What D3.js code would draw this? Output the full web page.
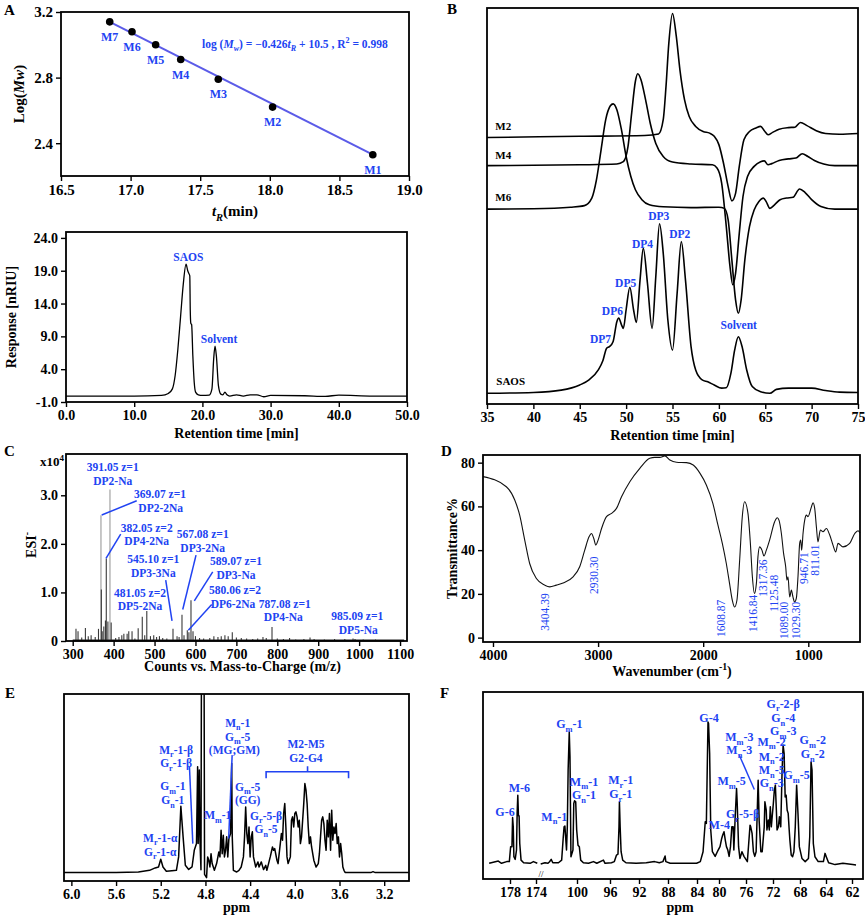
<!DOCTYPE html>
<html lang="en">
<head>
<meta charset="UTF-8">
<title>SAOS characterisation</title>
<script src="https://d3js.org/d3.v7.min.js"></script>
<style>
  body { margin: 0; background: #fff; }
  svg text { font-family: "Liberation Serif", "Times New Roman", serif; font-weight: bold; white-space: pre; }
</style>
</head>
<body>
<svg id="fig" width="865" height="919"></svg>
<script>
// ---------- A (top): GPC calibration ----------
const calNames = ["M7", "M6", "M5", "M4", "M3", "M2", "M1"];
const calTime = [16.85, 17.01, 17.18, 17.36, 17.63, 18.02, 18.74];
const calLogMw = [3.14, 3.08, 3.00, 2.91, 2.79, 2.62, 2.33];
const calFit = [[16.85, 3.14], [18.74, 2.33]];
const calEquation = "log (*M*_{*w*}) = −0.426*t*_{*R*} + 10.5 , R^{2} = 0.998";

// ---------- A (bottom): HPLC trace ----------
const hplc = [[0,-0.1],[10,-0.1],[14,0],[15,0.3],[15.6,1],[16.0,3],[16.4,7],[16.8,12],[17.2,17],[17.6,20.0],
  [17.85,19],[18.0,18.6],[18.15,18.2],[18.22,13],[18.3,11],[18.42,10.8],[18.6,6],[18.8,2],[19.0,0.5],[19.4,0.1],
  [20,0],[21,0.05],[21.4,1],[21.65,5.5],[21.85,7.5],[22.05,6],[22.35,1.5],[22.7,0.2],[23.0,0.1],[23.3,0.5],[23.6,0.1],
  [24,-0.1],[25,0.1],[26,-0.1],[27,0.1],[28,0.1],[29,-0.2],[30,0],[35,-0.05],[38,-0.15],[40,0.05],[45,-0.1],[50,-0.1]];
const hplcLabels = [["SAOS", 17.94, 20.45], ["Solvent", 22.44, 8.05]];

// ---------- B: SEC traces ----------
const secSAOS = [[35,2.7],[40,2.9],[43,3.5],[45,4.8],[46,6.1],[47,8.6],[47.5,11.0],[47.9,14.1],[48.2,14.5],[48.6,15.8],
  [49.0,20.8],[49.2,21.7],[49.5,20.0],[49.7,19.1],[50.0,23.8],[50.4,29.5],[50.8,23.8],[51.1,20.6],[51.5,31.3],[51.85,39.3],
  [52.3,30.5],[52.8,19.1],[53.2,32.2],[53.6,45.5],[54.0,38.1],[54.5,21.2],[55.0,13.6],[55.5,28.0],[55.95,41.0],[56.4,31.3],
  [57.0,14.5],[57.5,8.6],[58.2,6.1],[58.8,5.6],[59.5,4.8],[60.3,4.0],[60.8,4.1],[61.3,7.8],[61.7,13.6],[62.1,17.0],
  [62.5,14.5],[63.0,8.6],[63.6,4.4],[64.5,3.1],[65.5,2.7],[66.2,3.7],[67.5,4.0],[70.0,4.0],[71.5,3.4],[73.0,3.0],[75.0,2.9]];
const secM6 = [[35,49.2],[40,49.3],[44,49.7],[45.5,50.1],[46.3,52.0],[46.8,56.6],[47.3,64.2],[47.8,71.8],[48.3,75.3],
  [48.6,75.8],[49.0,74.3],[49.5,69.2],[50.0,62.5],[50.5,57.5],[51.0,54.1],[51.7,51.6],[52.5,50.3],[54.0,49.8],[57.0,49.6],
  [60.0,49.7],[60.6,49.4],[61.0,46.5],[61.4,36.4],[61.8,26.3],[62.1,22.9],[62.4,26.3],[62.8,36.4],[63.3,44.8],[63.8,49.0],
  [64.3,51.1],[64.8,52.0],[65.1,51.1],[65.5,49.4],[66.0,50.3],[66.6,51.6],[67.3,52.0],[68.0,52.2],[68.7,54.3],[69.3,53.4],
  [70.0,51.6],[71.0,49.9],[72.5,49.2],[75.0,49.2]];
const secM4 = [[35,60.2],[45,60.4],[49.0,60.6],[49.7,61.2],[50.2,65.0],[50.6,73.5],[51.0,81.5],[51.25,83.4],[51.6,81.9],
  [52.1,76.8],[52.6,70.9],[53.2,65.8],[54.0,62.5],[55.0,61.1],[57.0,60.6],[59.3,60.4],[59.8,59.6],[60.3,55.8],[60.8,44.8],
  [61.2,34.7],[61.5,30.1],[61.8,33.0],[62.2,43.1],[62.6,52.4],[63.1,57.5],[63.8,60.0],[64.5,61.2],[64.9,61.4],[65.3,60.4],
  [65.7,60.7],[66.5,61.5],[67.5,61.9],[68.3,62.1],[69.0,63.2],[69.6,62.5],[70.3,61.5],[71.3,60.6],[72.5,60.2],[75.0,60.2]];
const secM2 = [[35,67.3],[45,67.6],[52,67.8],[53.5,68.2],[54.0,71.8],[54.3,80.2],[54.6,91.0],[55.0,98.6],[55.4,93.0],
  [55.8,84.4],[56.3,76.8],[56.8,72.6],[57.5,70.1],[58.3,68.8],[59.0,68.4],[59.5,67.6],[60.0,65.5],[60.5,60.8],[61.0,54.9],
  [61.4,51.3],[61.8,53.2],[62.2,60.0],[62.7,66.7],[63.3,68.8],[64.0,69.7],[64.5,70.1],[64.9,69.0],[65.3,68.0],[65.8,68.6],
  [66.5,69.4],[67.5,69.8],[68.2,69.9],[68.8,71.1],[69.5,70.3],[70.5,69.0],[71.5,68.3],[73,68.1],[75.0,68.3]];
const secTraceNames = [["M2", 35.9, 69.2], ["M4", 35.9, 61.9], ["M6", 35.9, 51.3], ["SAOS", 36.0, 4.8]];
const secPeakLabels = [["DP7",47.23,15.4],["DP6",48.52,22.5],["DP5",49.95,29.5],["DP4",51.76,39.4],
  ["DP3",53.51,46.5],["DP2",55.78,41.9],["Solvent",62.14,18.9]];

// ---------- C: ESI-MS ----------
const msPeaks = [[308,0.25],[313,0.2],[322,0.07],[331,0.27],[338,0.1],[345,0.12],[355,0.08],[363,0.25],[369.07,2.59],
  [370,1.06],[372,0.2],[376,0.3],[380,0.42],[382.05,1.70],[386,0.4],[391.05,3.12],[394,0.38],[405,0.06],[413,0.08],
  [420,0.12],[425,0.15],[433,0.15],[437,0.2],[445,0.2],[452,0.05],[460,0.26],[470,0.5],[476,0.12],[481.05,0.62],
  [490,0.1],[498,0.12],[505,0.08],[512,0.1],[520,0.06],[530,0.05],[545.10,0.25],[555,0.1],[560,0.08],[567.08,0.54],
  [572,0.12],[580.06,0.22],[584,0.18],[589.07,0.84],[594,0.2],[600,0.1],[610,0.06],[620,0.05],[635,0.06],[645,0.1],
  [655,0.08],[663,0.1],[672,0.12],[680,0.1],[690,0.18],[700,0.07],[712,0.06],[725,0.05],[740,0.04],[752,0.05],
  [765,0.08],[773,0.06],[787.08,0.29],[800,0.05],[815,0.04],[830,0.06],[845,0.03],[865,0.04],[880,0.07],[890,0.04],
  [915,0.03],[940,0.04],[965,0.04],[985.09,0.05],[990,0.04],[1010,0.03],[1040,0.03],[1070,0.02],[1100,0.02]];
const msLabels = [["391.05 z=1",397.8,3.507],["DP2-Na",397.8,3.212],["369.07 z=1",513.4,2.944],["DP2-2Na",515.1,2.655],
  ["382.05 z=2",480.9,2.249],["DP4-2Na",480.9,1.98],["567.08 z=1",617.7,2.113],["DP3-2Na",617.7,1.824],
  ["545.10 z=1",497.0,1.603],["DP3-3Na",497.0,1.308],["589.07 z=1",699.1,1.562],["DP3-Na",699.1,1.273],
  ["481.05 z=2",464.5,0.916],["DP5-2Na",464.5,0.640],["580.06 z=2",696.7,0.963],["DP6-2Na",691.8,0.675],
  ["787.08 z=1",818.4,0.675],["DP4-Na",814.8,0.413],["985.09 z=1",995.6,0.427],["DP5-Na",998,0.138]];
const msLeaders = [[370.9,2.593,456.4,2.888],[381.4,1.70,417.3,2.20],[568.9,0.648,601.4,1.768],
  [542.7,0.413,527.3,1.252],[597.2,0.825,642.2,1.424],[582.6,0.221,639.7,0.751]];

// ---------- D: FT-IR ----------
const ir = [[4095,73.6],[3873,69.0],[3793,62.9],[3746,56.0],[3698,44.6],[3651,33.9],[3587,27.0],[3508,24.0],[3460,23.2],
  [3397,24.0],[3333,25.0],[3238,27.8],[3175,32.4],[3127,40.0],[3086,46.1],[3063,47.6],[3041,45.3],[3022,42.3],[3000,44.6],
  [2967,49.9],[2920,55.3],[2872,56.8],[2825,59.1],[2777,64.4],[2698,71.3],[2603,77.4],[2508,82.0],[2460,82.4],[2413,82.4],
  [2365,83.1],[2317,81.2],[2254,80.2],[2159,80.0],[2095,78.9],[2030,75.1],[1970,69.8],[1908,61.4],[1860,51.5],[1818,43.1],
  [1780,33.9],[1749,24.7],[1723,17.1],[1701,14.0],[1679,17.1],[1653,35.4],[1628,55.3],[1606,62.1],[1574,56.8],[1551,43.1],
  [1532,27.8],[1513,20.2],[1494,24.7],[1479,36.9],[1463,41.5],[1441,40.0],[1422,37.3],[1399,40.0],[1368,44.6],[1320,53.0],
  [1295,54.8],[1279,53.7],[1256,47.6],[1235,38.5],[1215,32.4],[1203,26.3],[1193,27.8],[1177,18.6],[1161,21.7],[1146,18.6],
  [1130,16.3],[1114,17.9],[1098,27.8],[1082,43.1],[1072,44.6],[1063,40.0],[1050,47.6],[1034,53.7],[1018,56.0],[1003,55.3],
  [970,59.8],[955,61.7],[939,59.1],[923,50.7],[908,43.8],[885,49.2],[860,48.4],[828,49.9],[796,46.9],[765,42.3],[739,39.2],
  [717,43.1],[670,41.5],[606,43.1],[558,47.6],[527,48.9],[508,47.9]];
const irLabels = [["3404.39",3467,11.7],["2930.30",3000,28.5],["1608.87",1793,8.8],["1416.84",1491,11.1],
  ["1317.36",1396,27.2],["1125.48",1286,20.3],["1089.00",1190,7.9],["1029.30",1079,7.9],["946.71",1000,31.8],["811.01",895,35.4]];

// ---------- E: 1H NMR ----------
const hnmr = [[6.07,4.5],[5.6,4.5],[5.4,4.8],[5.3,5.7],[5.25,7.0],[5.22,7.5],[5.2,11.6],[5.18,7.5],[5.15,5.2],[5.1,5.5],
  [5.06,5.7],[5.04,12.9],[5.02,40.0],[5.0,23.6],[4.98,8.4],[4.95,6.2],[4.92,7.5],[4.9,16.4],[4.88,20],[4.87,61.1],
  [4.865,20],[4.855,59.3],[4.85,23.6],[4.84,6],[4.836,110],[4.812,110],[4.808,3.6],[4.79,1.8],[4.78,12.9],[4.77,11.1],
  [4.76,7.5],[4.75,14.6],[4.74,9.3],[4.72,5.7],[4.7,9.3],[4.68,15.5],[4.67,12.9],[4.66,27.1],[4.65,14.6],[4.64,24.5],
  [4.63,12.9],[4.62,16.4],[4.61,23.6],[4.6,12.9],[4.59,22.7],[4.575,25.4],[4.565,62.9],[4.56,23.6],[4.55,5.7],[4.52,4.8],
  [4.5,5.7],[4.48,7.5],[4.46,12.9],[4.45,23.6],[4.44,39.6],[4.43,25.4],[4.42,20],[4.41,28.9],[4.4,12.9],[4.39,23.6],
  [4.38,26.3],[4.37,12.9],[4.35,7.5],[4.33,10.2],[4.32,7.5],[4.3,10.2],[4.28,6.1],[4.26,8.4],[4.25,5.7],[4.22,12.9],
  [4.2,18.2],[4.19,16.4],[4.18,17.3],[4.16,11.1],[4.15,9.3],[4.13,20],[4.12,25.4],[4.11,21.8],[4.1,36.1],[4.09,41.4],
  [4.08,28.9],[4.07,12.9],[4.06,9.3],[4.04,12.9],[4.03,32.5],[4.02,34.3],[4.01,28.9],[4.0,36.1],[3.99,37.0],[3.98,34.3],
  [3.97,28.9],[3.96,32.5],[3.95,20],[3.94,23.6],[3.93,32.5],[3.92,41.4],[3.91,52.1],[3.9,48.6],[3.89,41.4],[3.88,28.9],
  [3.87,20],[3.86,23.6],[3.85,18.2],[3.83,11.1],[3.81,7.5],[3.79,9.3],[3.78,14.6],[3.77,23.6],[3.76,32.5],[3.75,34.3],
  [3.74,30.7],[3.73,21.8],[3.72,16.4],[3.71,32.5],[3.70,23.6],[3.69,36.1],[3.68,16.4],[3.67,37.9],[3.66,21.8],[3.65,28.9],
  [3.64,25.4],[3.63,30.7],[3.62,20],[3.61,23.6],[3.6,12.9],[3.59,20],[3.58,14.6],[3.57,7.5],[3.56,5.7],[3.55,4.6],
  [3.5,4.5],[3.32,4.5],[3.3,5.0],[3.28,4.5],[2.98,4.5]];
const hnmrLabels = [["M_{r}-1-α",5.205,21.1],["G_{r}-1-α",5.205,13.4],["G_{m}-1",5.092,48.6],["G_{n}-1",5.092,41.1],
  ["M_{r}-1-β",5.062,67.9],["G_{r}-1-β",5.062,60.7],["M_{m}-1",4.69,33.0],["M_{n}-1",4.511,82.5],["G_{m}-5",4.511,75.0],
  ["(MG;GM)",4.541,67.9],["G_{m}-5",4.422,48.2],["(GG)",4.422,41.1],["G_{r}-5-β",4.257,32.7],["G_{n}-5",4.257,25.5],
  ["M2-M5",3.9,71.1],["G2-G4",3.9,63.9]];
const hnmrLeaders = [[4.943,61.1,4.913,20.0],[4.561,67.3,4.592,22.7]];
const hnmrBracket = { from: 4.257, to: 3.519, mid: 3.886, level: 58.4, foot: 55.0, top: 61.4 };

// ---------- F: 13C NMR (broken axis) ----------
const cnmrTicks = [178, 174, 100, 96, 92, 88, 84, 80, 76, 72, 68, 64, 62];
const cnmrLeft = [[181.2,8.4],[179.8,9.6],[179.3,8.4],[178.5,9.3],[178.1,9.3],[177.9,17.3],[177.7,17.3],[177.6,32.9],
  [177.5,27.9],[177.4,11.9],[177.2,10.5],[177.0,15.5],[176.9,35.1],[176.8,44.8],[176.7,33.8],[176.6,33.8],[176.5,19.0],
  [176.3,10.1],[175.9,8.7],[174.9,8.4],[174.4,9.3],[173.8,8.4]];
const cnmrRight = [[104.5,8.0],[103.97,8.7],[103.6,8.4],[103.4,9.25],[103.2,10.5],[103.0,8.7],[102.3,8.7],[101.9,10.1],
  [101.7,22.6],[101.6,27.9],[101.5,28.3],[101.3,15.5],[101.2,27.9],[101.1,58.2],[100.96,78.5],[100.87,65.3],[100.75,11.9],
  [100.5,15.5],[100.4,40.4],[100.3,41.8],[100.16,41.3],[100.04,26.2],[99.88,18.1],[99.72,17.3],[99.55,10.1],[99.23,8.7],
  [98.6,8.4],[98.0,9.3],[97.6,8.4],[96.8,10.1],[96.6,8.4],[95.8,8.7],[95.4,9.3],[95.1,12.8],[94.9,13.3],[94.76,27.9],
  [94.7,41.3],[94.6,27.9],[94.47,14.6],[94.25,10.1],[93.8,8.7],[92.4,8.4],[91.0,8.7],[89.85,9.3],[89.2,8.7],[88.7,9.3],
  [88.4,12.3],[88.3,9.3],[87.7,8.4],[85.9,8.4],[84.05,8.4],[83.4,9.3],[82.9,14.6],[82.5,30.6],[82.3,29.7],[82.0,84.0],
  [81.9,83.1],[81.7,67.1],[81.5,26.2],[81.2,14.6],[80.7,12.1],[80.3,14.6],[79.85,17.3],[79.6,21.7],[79.45,23.5],[79.26,25.3],
  [79.07,20.8],[78.9,17.3],[78.7,15.5],[78.5,12.1],[78.3,17.3],[78.1,27.9],[77.9,27.9],[77.8,15.5],[77.6,33.3],[77.4,48.4],
  [77.3,40.4],[77.1,17.3],[76.9,11.0],[76.6,14.6],[76.3,12.1],[75.8,9.3],[75.6,19.0],[75.4,28.8],[75.3,27.9],[75.1,24.4],
  [74.9,14.6],[74.7,12.1],[74.5,14.6],[74.3,40.4],[74.2,52.8],[74.05,31.1],[73.8,14.6],[73.6,14.6],[73.3,27.9],[73.2,41.3],
  [73.0,36.8],[72.9,26.2],[72.7,31.5],[72.55,26.2],[72.4,38.6],[72.25,27.9],[71.95,40.4],[71.8,47.5],[71.65,50.2],[71.5,36.8],
  [71.4,26.2],[71.2,27.9],[71.05,33.3],[70.85,27.9],[70.65,58.2],[70.5,71.5],[70.35,67.1],[70.2,43.9],[70.05,44.8],[69.9,36.8],
  [69.75,35.1],[69.6,26.2],[69.5,20.8],[69.3,12.8],[69.1,11.9],[68.9,14.6],[68.7,27.9],[68.5,50.2],[68.3,35.1],[68.1,17.3],
  [67.7,11.0],[67.2,9.3],[66.7,11.0],[66.5,22.6],[66.3,62.6],[66.15,58.2],[65.95,19.0],[65.7,11.9],[65.2,9.3],[64.4,9.3],
  [64.15,13.7],[63.98,11.9],[63.8,8.7],[63.3,7.7],[62.7,8.4],[61.95,7.7],[61.7,7.5]];
const cnmrLabels = [["G-6",178.77,33.8],["M-6",176.57,46.3],["M_{n}-1",102.81,31.1],["G_{m}-1",100.95,80.6],
  ["M_{m}-1",99.15,49.8],["G_{n}-1",99.15,42.7],["M_{r}-1",94.52,50.7],["G_{r}-1",94.52,43.2],["G-4",81.82,84.0],
  ["M-4",79.96,26.7],["M_{m}-5",78.12,50.2],["G_{r}-5-β",76.49,32.4],["M_{m}-3",76.99,73.8],["M_{n}-3",76.99,66.7],
  ["M_{m}-2",72.2,71.2],["M_{n}-2",72.2,63.2],["M_{n}-5",72.2,56.1],["G_{n}-3",72.2,49.0],["G_{r}-2-β",70.48,91.7],
  ["G_{n}-4",70.48,84.0],["G_{m}-3",70.48,76.9],["G_{m}-2",66.04,72.1],["G_{n}-2",66.04,64.6],["G_{m}-5",68.49,53.4]];
const cnmrLeaders = [[76.99,66.2,74.77,47.9]];

// ---------------------------------------------------------------
const svg = d3.select("#fig");
const blue = "#2143f2";

// *x* italic, _{..} subscript, ^{..} superscript
function rich(text, str, fs) {
  const re = /_\{([^}]*)\}|\^\{([^}]*)\}|\*([^*]+)\*|([^_^*]+)/g;
  let m, shift = 0;
  while ((m = re.exec(str)) !== null) {
    let content, target = 0, italic = false, small = false;
    if (m[1] !== undefined) { content = m[1]; target = 0.3 * fs; small = true; }
    else if (m[2] !== undefined) { content = m[2]; target = -0.4 * fs; small = true; }
    else if (m[3] !== undefined) { content = m[3]; italic = true; }
    else content = m[4];
    if (/^\*.*\*$/.test(content)) { content = content.slice(1, -1); italic = true; }
    const ts = text.append("tspan").text(content).attr("dy", target - shift);
    if (small) ts.style("font-size", (fs * 0.7) + "px");
    if (italic) ts.style("font-style", "italic");
    shift = target;
  }
}

function label(x, y, str, fs, opts = {}) {
  const t = svg.append("text").attr("x", x).attr("y", y)
    .attr("text-anchor", opts.anchor || "middle")
    .attr("fill", opts.color || "#000")
    .style("font-size", fs + "px");
  if (opts.weight) t.style("font-weight", opts.weight);
  if (opts.rotate) t.attr("transform", `rotate(-90,${x},${y})`);
  rich(t, str, fs);
  return t;
}

function frame(b) {
  svg.append("rect").attr("x", b.x0).attr("y", b.y0)
    .attr("width", b.x1 - b.x0).attr("height", b.y1 - b.y0)
    .attr("fill", "none").attr("stroke", "#000").attr("stroke-width", 1.8);
}

function bottomAxis(b, x, ticks, fmt, fs = 14) {
  svg.append("g").attr("transform", `translate(0,${b.y1})`)
    .call(d3.axisBottom(x).tickValues(ticks).tickFormat(fmt).tickSizeOuter(0).tickSize(5).tickPadding(3))
    .call(g => {
      g.select(".domain").remove();
      g.selectAll("line").attr("stroke-width", 1.4);
      g.selectAll("text").style("font-size", fs + "px").attr("fill", "#000");
    });
}

function leftAxis(b, y, ticks, fmt, fs = 14) {
  svg.append("g").attr("transform", `translate(${b.x0},0)`)
    .call(d3.axisLeft(y).tickValues(ticks).tickFormat(fmt).tickSizeOuter(0).tickSize(5).tickPadding(3))
    .call(g => {
      g.select(".domain").remove();
      g.selectAll("line").attr("stroke-width", 1.4);
      g.selectAll("text").style("font-size", fs + "px").attr("fill", "#000");
    });
}

function clip(id, b) {
  svg.append("clipPath").attr("id", id).append("rect")
    .attr("x", b.x0).attr("y", b.y0).attr("width", b.x1 - b.x0).attr("height", b.y1 - b.y0);
  return `url(#${id})`;
}

// panel letters
[["A", 4, 15], ["B", 447, 14], ["C", 4, 456], ["D", 441, 456], ["E", 5, 698], ["F", 440, 698]]
  .forEach(d => label(d[1], d[2], d[0], 15, { anchor: "start" }));

// ===== A top =====
{
  const b = { x0: 61, x1: 409, y0: 12, y1: 176 };
  const x = d3.scaleLinear().domain([16.5, 19.0]).range([b.x0, b.x1]);
  const y = d3.scaleLinear().domain([2.2, 3.2]).range([b.y1, b.y0]);
  svg.append("path").datum(calFit)
    .attr("d", d3.line().x(d => x(d[0])).y(d => y(d[1])))
    .attr("stroke", "#5b5be8").attr("stroke-width", 2).attr("fill", "none");
  svg.append("g").selectAll("circle").data(calTime).join("circle")
    .attr("cx", d => x(d)).attr("cy", (d, i) => y(calLogMw[i])).attr("r", 3.8).attr("fill", "#000");
  calNames.forEach((n, i) => label(x(calTime[i]), y(calLogMw[i]) + 19, n, 12, { color: blue }));
  label(x(18.18), y(2.982), calEquation, 11.5, { color: blue });
  frame(b);
  bottomAxis(b, x, d3.range(16.5, 19.01, 0.5), d => d.toFixed(1), 15);
  leftAxis(b, y, [2.4, 2.8, 3.2], d => d.toFixed(1), 15);
  label((b.x0 + b.x1) / 2, 216, "*t*_{*R*}(min)", 15);
  label(24, (b.y0 + b.y1) / 2, "Log(*Mw*)", 15, { rotate: true });
}

// ===== A bottom =====
{
  const b = { x0: 66, x1: 407, y0: 232, y1: 402 };
  const x = d3.scaleLinear().domain([0, 50]).range([b.x0, b.x1]);
  const y = d3.scaleLinear().domain([-1, 24.9]).range([b.y1, b.y0]);
  svg.append("path").datum(hplc)
    .attr("d", d3.line().x(d => x(d[0])).y(d => y(d[1])).curve(d3.curveMonotoneX))
    .attr("stroke", "#000").attr("stroke-width", 1.3).attr("fill", "none");
  hplcLabels.forEach(d => label(x(d[1]), y(d[2]), d[0], 11.5, { color: blue }));
  frame(b);
  bottomAxis(b, x, d3.range(0, 50.1, 10), d => d.toFixed(1));
  leftAxis(b, y, [-1, 4, 9, 14, 19, 24], d => d.toFixed(1));
  label((b.x0 + b.x1) / 2, 438, "Retention time [min]", 14);
  label(16, (b.y0 + b.y1) / 2, "Response [nRIU]", 14, { rotate: true });
}

// ===== B =====
{
  const b = { x0: 487, x1: 858, y0: 8, y1: 404 };
  const x = d3.scaleLinear().domain([35, 75]).range([b.x0, b.x1]);
  const y = d3.scaleLinear().domain([0, 100]).range([b.y1, b.y0]);
  const line = d3.line().x(d => x(d[0])).y(d => y(d[1])).curve(d3.curveMonotoneX);
  [secM2, secM4, secM6, secSAOS].forEach(s =>
    svg.append("path").datum(s).attr("d", line)
      .attr("stroke", "#000").attr("stroke-width", 1.6).attr("fill", "none"));
  secTraceNames.forEach(d => label(x(d[1]), y(d[2]), d[0], 11, { anchor: "start" }));
  secPeakLabels.forEach(d => label(x(d[1]), y(d[2]), d[0], 11.5, { color: blue }));
  frame(b);
  bottomAxis(b, x, d3.range(35, 76, 5), d3.format("d"));
  label((b.x0 + b.x1) / 2, 440, "Retention time [min]", 14);
}

// ===== C =====
{
  const b = { x0: 66, x1: 407, y0: 454, y1: 641 };
  const x = d3.scaleLinear().domain([283.6, 1117]).range([b.x0, b.x1]);
  const y = d3.scaleLinear().domain([0, 3.85]).range([b.y1, b.y0]);
  svg.append("g").selectAll("line").data(msPeaks).join("line")
    .attr("x1", d => x(d[0])).attr("x2", d => x(d[0]))
    .attr("y1", y(0)).attr("y2", d => y(d[1]))
    .attr("stroke", d => d[1] > 2 ? "#9a9a9a" : "#3a3a3a").attr("stroke-width", 1.1);
  svg.append("line").attr("x1", x(300)).attr("x2", x(1110)).attr("y1", y(0.012)).attr("y2", y(0.012))
    .attr("stroke", "#222").attr("stroke-width", 2);
  svg.append("g").selectAll("line").data(msLeaders).join("line")
    .attr("x1", d => x(d[0])).attr("y1", d => y(d[1])).attr("x2", d => x(d[2])).attr("y2", d => y(d[3]))
    .attr("stroke", blue).attr("stroke-width", 1.5);
  msLabels.forEach(d => label(x(d[1]), y(d[2]), d[0], 11.5, { color: blue }));
  frame(b);
  bottomAxis(b, x, d3.range(300, 1101, 100), d3.format("d"));
  leftAxis(b, y, [0, 1, 2, 3], d => d === 0 ? "0" : d.toFixed(1));
  label(52, 466, "x10^{4}", 13);
  label(36, 545, "ESI^{-}", 14, { rotate: true });
  label((b.x0 + b.x1) / 2 + 6, 671, "Counts vs. Mass-to-Charge (m/z)", 14);
}

// ===== D =====
{
  const b = { x0: 483, x1: 860, y0: 455, y1: 642 };
  const x = d3.scaleLinear().domain([4095, 508]).range([b.x0, b.x1]);
  const y = d3.scaleLinear().domain([-2, 83.5]).range([b.y1, b.y0]);
  svg.append("path").datum(ir)
    .attr("d", d3.line().x(d => x(d[0])).y(d => y(d[1])).curve(d3.curveMonotoneX))
    .attr("stroke", "#111").attr("stroke-width", 1.1).attr("fill", "none");
  irLabels.forEach(d => label(x(d[1]), y(d[2]) + 0, d[0], 11.5, { color: blue, rotate: true, weight: "normal" }));
  frame(b);
  bottomAxis(b, x, [4000, 3000, 2000, 1000], d3.format("d"));
  leftAxis(b, y, [0, 20, 40, 60, 80], d3.format("d"));
  label(672, 676, "Wavenumber (cm^{-1})", 14);
  label(457, (b.y0 + b.y1) / 2, "Transmittance%", 14, { rotate: true });
}

// ===== E =====
{
  const b = { x0: 64, x1: 409, y0: 694, y1: 881 };
  const x = d3.scaleLinear().domain([6.066, 2.978]).range([b.x0, b.x1]);
  const y = d3.scaleLinear().domain([0, 100]).range([b.y1, b.y0]);
  svg.append("path").datum(hnmr).attr("clip-path", clip("clipE", b))
    .attr("d", d3.line().x(d => x(d[0])).y(d => y(d[1])))
    .attr("stroke", "#000").attr("stroke-width", 1.5).attr("fill", "none").attr("stroke-linejoin", "round");
  svg.append("g").selectAll("line").data(hnmrLeaders).join("line")
    .attr("x1", d => x(d[0])).attr("y1", d => y(d[1])).attr("x2", d => x(d[2])).attr("y2", d => y(d[3]))
    .attr("stroke", blue).attr("stroke-width", 1.5);
  const k = hnmrBracket;
  svg.append("path")
    .attr("d", `M${x(k.from)},${y(k.foot)}V${y(k.level)}H${x(k.to)}V${y(k.foot)}M${x(k.mid)},${y(k.level)}V${y(k.top)}`)
    .attr("stroke", blue).attr("stroke-width", 1.6).attr("fill", "none");
  hnmrLabels.forEach(d => label(x(d[1]), y(d[2]), d[0], 11.5, { color: blue }));
  frame(b);
  bottomAxis(b, x, [6.0, 5.6, 5.2, 4.8, 4.4, 4.0, 3.6, 3.2], d => d.toFixed(1));
  label((b.x0 + b.x1) / 2, 912, "ppm", 14);
}

// ===== F =====
{
  const b = { x0: 483, x1: 863, y0: 692, y1: 879 };
  const x = d3.scaleLinear()
    .domain([182.1, 178, 174, 173.6, 104.5, 100, 96, 92, 88, 84, 80, 76, 72, 68, 64, 62, 61.2])
    .range([483.3, 510, 536, 538.6, 540.7, 577, 610, 639, 668, 697, 719, 746, 773, 800, 826, 852, 862.7]);
  const y = d3.scaleLinear().domain([0, 100]).range([b.y1, b.y0]);
  const line = d3.line().x(d => x(d[0])).y(d => y(d[1]));
  [cnmrLeft, cnmrRight].forEach(s =>
    svg.append("path").datum(s).attr("d", line)
      .attr("stroke", "#000").attr("stroke-width", 1.5).attr("fill", "none").attr("stroke-linejoin", "round"));
  svg.append("g").selectAll("line").data(cnmrLeaders).join("line")
    .attr("x1", d => x(d[0])).attr("y1", d => y(d[1])).attr("x2", d => x(d[2])).attr("y2", d => y(d[3]))
    .attr("stroke", blue).attr("stroke-width", 1.5);
  cnmrLabels.forEach(d => label(x(d[1]), y(d[2]), d[0], 12, { color: blue }));
  frame(b);
  bottomAxis(b, x, cnmrTicks, d3.format("d"));
  label(x(173.7) + 3, b.y1 - 2, "//", 9, { weight: "normal" });
  label(680, 912, "ppm", 14);
}
</script>
</body>
</html>
